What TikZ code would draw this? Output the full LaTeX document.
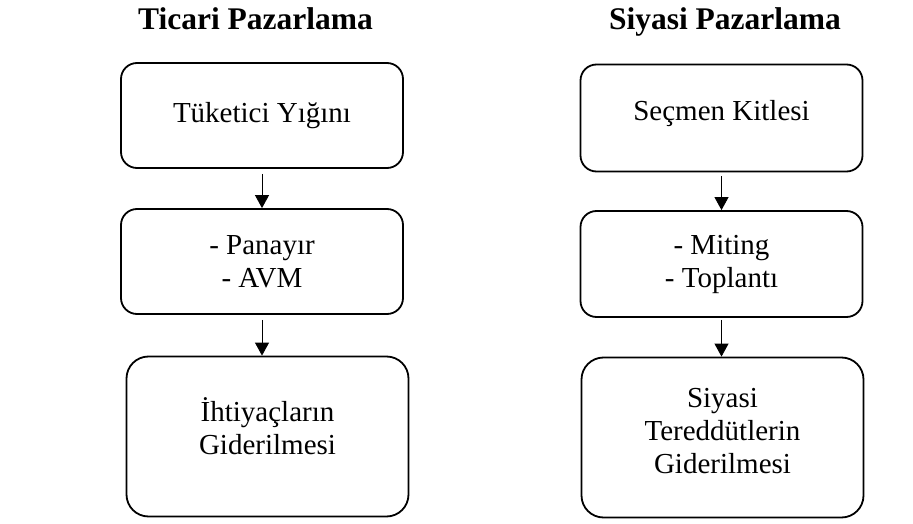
\documentclass[tikz,border=0pt]{standalone}
\usepackage{fontspec}
\setmainfont{Liberation Serif}
\usepackage{tikz}
\usetikzlibrary{positioning,arrows.meta}
\tikzset{box/.style={draw, line width=1.8pt, rounded corners=16pt, align=center,
    font=\fontsize{29}{33}\selectfont, inner sep=0pt, minimum width=282pt}}

\begin{document}
\begin{tikzpicture}[x=1pt, y=-1pt,
      flow/.style={line width=0.9pt, -{Triangle[length=13pt,width=14pt]}},
      tall/.style={minimum height=160pt, rounded corners=22pt, text depth=20pt},
      hdr/.style={font=\fontsize{31.5}{36}\selectfont\bfseries, anchor=base}]
    \useasboundingbox (0,0) rectangle (913,524);
    \node[hdr] (tic) at (255.5,29.5) {Ticari Pazarlama};   \node[hdr] (siy) at (725,29.5) {Siyasi Pazarlama};
    % left column
    \node[box, minimum height=105pt] (t1) at (262,115.5) {Tüketici Yığını};
    \node[box, minimum height=105pt] (t2) at (262,261.5) {- Panayır\\- AVM};
    \node[box, tall] (t3) at (267.5,436.5) {İhtiyaçların\\Giderilmesi};
    % right column
    \node[box, minimum height=107pt, text depth=16pt] (s1) at (721.5,118) {Seçmen Kitlesi};
    \node[box, minimum height=106pt] (s2) at (721.5,264) {- Miting\\- Toplantı};
    \node[box, tall, text depth=14pt] (s3) at (722.5,437.5) {Siyasi\\Tereddütlerin\\Giderilmesi};
    \draw[flow] ([yshift=-5pt]t1.south) -- (t1.south |- t2.north);
    \draw[flow] ([yshift=-5pt]t2.south) -- (t2.south |- t3.north);
    \draw[flow] ([yshift=-4pt]s1.south) -- (s1.south |- s2.north);
    \draw[flow] ([yshift=-2pt]s2.south) -- (s2.south |- s3.north);
  \end{tikzpicture}
\end{document}
